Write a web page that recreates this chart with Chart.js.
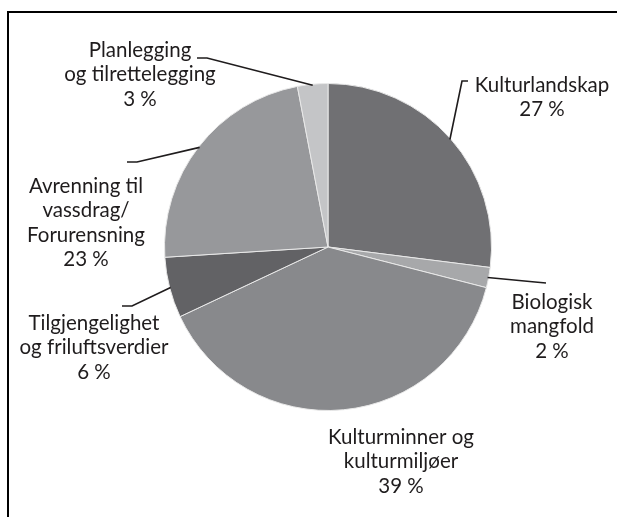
<!DOCTYPE html>
<html>
<head>
<meta charset="utf-8">
<script src="https://cdn.jsdelivr.net/npm/chart.js@4"></script>
<style>
    body { margin: 0; background: #fff; overflow: hidden; }
    #wrap { width: 617px; height: 517px; position: relative; }
</style>
</head>
<body>
<div id="wrap"><canvas id="myChart" width="617" height="517"></canvas></div>
<script>
// Data
// --------------------------------------------
const categories = ['Kulturlandskap', 'Biologisk mangfold', 'Kulturminner og kulturmiljøer',
    'Tilgjengelighet og friluftsverdier', 'Avrenning til vassdrag/Forurensning', 'Planlegging og tilrettelegging']
const values = [27, 2, 39, 6, 23, 3]
const labelLines = [
    ['Kulturlandskap'],
    ['Biologisk', 'mangfold'],
    ['Kulturminner og', 'kulturmiljøer'],
    ['Tilgjengelighet', 'og friluftsverdier'],
    ['Avrenning til', 'vassdrag/', 'Forurensning'],
    ['Planlegging', 'og tilrettelegging']
]
const colors = ['#707073', '#a7a8aa', '#88898c', '#626265', '#97989b', '#c4c5c7']

// Where each label sits, relative to the pie centre (px)
// text: centre of first line, elbow/end: leader line bends
// --------------------------------------------
const labelLayout = [
    { text: [214, -162], elbow: [134, -166], end: [140, -166] },
    { text: [224, 55], elbow: [207, 35], end: [218, 36] },
    { text: [73, 190] },
    { text: [-234, 76], elbow: [-196, 59], end: [-206, 59] },
    { text: [-242, -61], elbow: [-191, -85], end: [-201, -85] },
    { text: [-188, -197], elbow: [-121, -189], end: [-131, -189] }
]

const textColor = '#1f1c1d'
const lineHeight = 24.5


// Frame round the figure (cropped on right and bottom)
// --------------------------------------------
const framePlugin = {
    id: 'frame',
    afterDraw(chart) {
        let ctx = chart.ctx
        ctx.save()
        ctx.strokeStyle = '#000'
        ctx.lineWidth = 2
        ctx.beginPath()
        ctx.moveTo(8, 517)
        ctx.lineTo(8, 12)
        ctx.lineTo(617, 12)
        ctx.stroke()
        ctx.restore()
    }
}

// Labels with leader lines
// --------------------------------------------
const labelPlugin = {
    id: 'pieLabels',
    afterDatasetsDraw(chart) {
        let ctx = chart.ctx
        let arcs = chart.getDatasetMeta(0).data
        ctx.save()
        ctx.font = '20.5px Lato'
        ctx.fillStyle = textColor
        ctx.strokeStyle = textColor
        ctx.lineWidth = 1.6
        ctx.textAlign = 'center'
        ctx.textBaseline = 'middle'

        arcs.forEach((arc, i) => {
            let p = arc.getProps(['x', 'y', 'startAngle', 'endAngle', 'outerRadius'], true)
            let lay = labelLayout[i]
            let mid = (p.startAngle + p.endAngle) / 2

            if (lay.elbow) {
                let r = p.outerRadius - 1
                ctx.beginPath()
                ctx.moveTo(p.x + Math.cos(mid) * r, p.y + Math.sin(mid) * r)
                ctx.lineTo(p.x + lay.elbow[0], p.y + lay.elbow[1])
                ctx.lineTo(p.x + lay.end[0], p.y + lay.end[1])
                ctx.stroke()
            }

            let lines = labelLines[i].concat([`${values[i]} %`])
            lines.forEach((t, k) => {
                ctx.fillText(t, p.x + lay.text[0], p.y + lay.text[1] + k * lineHeight)
            })
        })
        ctx.restore()
    }
}


// Plots the pie
// --------------------------------------------
function plot() {
    let ctx = document.getElementById('myChart').getContext('2d')

    new Chart(ctx, {
        type: 'pie',
        data: {
            labels: categories,
            datasets: [{
                data: values,
                backgroundColor: colors,
                borderColor: '#e8e8e8',
                borderWidth: 1
            }]
        },
        options: {
            responsive: false,
            animation: false,
            layout: {
                padding: { left: 164, right: 125, top: 83, bottom: 106 }
            },
            plugins: {
                legend: { display: false },
                tooltip: { enabled: false }
            }
        },
        plugins: [labelPlugin, framePlugin]
    })
}

plot()
</script>
</body>
</html>
